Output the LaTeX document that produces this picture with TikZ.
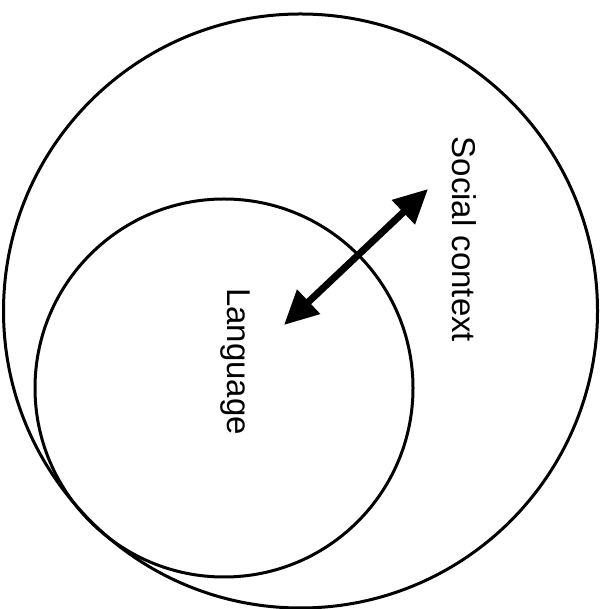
\documentclass[tikz,border=0pt]{standalone}
\usepackage{fontspec}
\setmainfont{Liberation Sans}
\usetikzlibrary{arrows.meta}
\begin{document}
\begin{tikzpicture}[x=1pt,y=1pt,
  ring/.style={draw=black,line width=3pt},
  label/.style={inner sep=0pt,rotate=-90,anchor=base west,font=\fontsize{33}{40}\selectfont},
  twohead/.style={line width=7pt,{Triangle[length=34pt,width=32pt]}-{Triangle[length=34pt,width=32pt]}}]
\useasboundingbox (0,0) rectangle (605,609);
\coordinate (bigc) at (300.5,298);
\coordinate (smallc) at (224,221);
\draw[ring] (bigc) circle[radius=297];
\draw[ring] (smallc) circle[radius=189];
\coordinate (inner) at (284,284);
\coordinate (outer) at (428,420);
\draw[twohead] (inner) -- (outer);
\node[label] (social) at (452.5,472.5) {Social context};
\node[label] (lang) at (227.5,321) {Language};
\end{tikzpicture}
\end{document}
